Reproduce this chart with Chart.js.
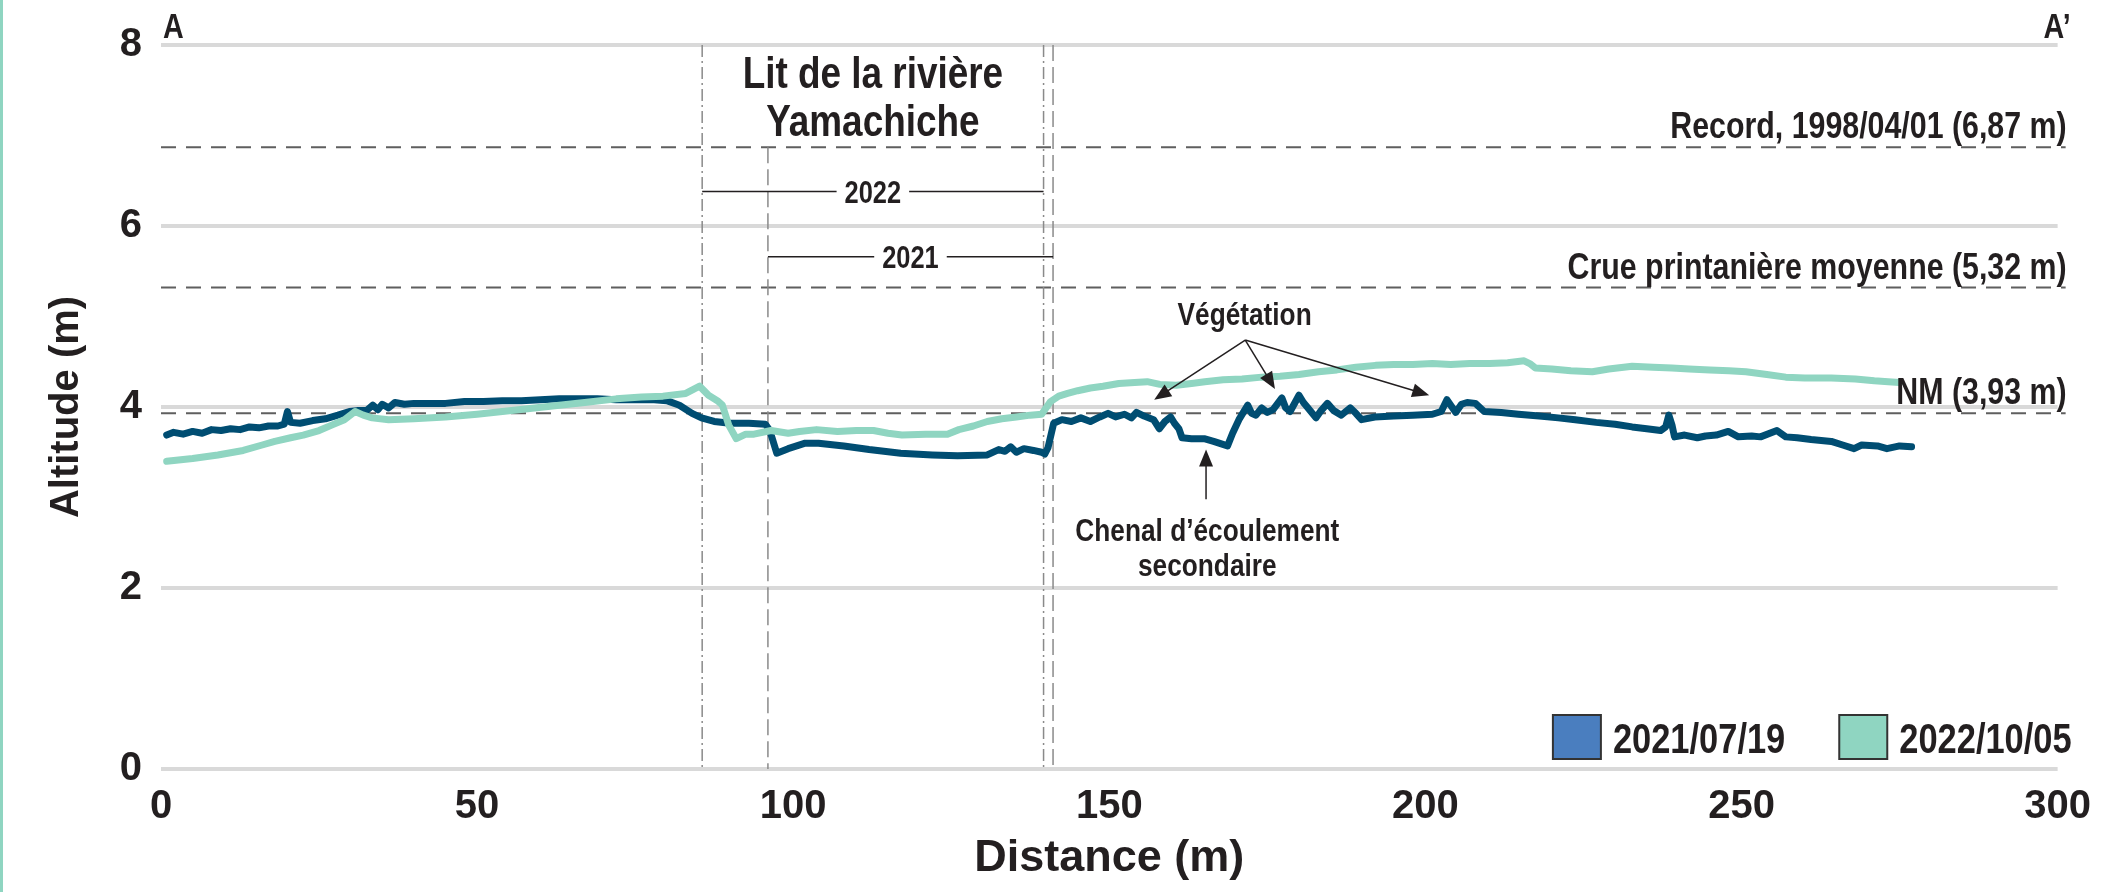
<!DOCTYPE html>
<html>
<head>
<meta charset="utf-8">
<script src="https://cdn.jsdelivr.net/npm/chart.js@4.4.1/dist/chart.umd.min.js"></script>
<style>
  body { margin: 0; background: #fff; }
  #wrap { width: 2105px; height: 892px; }
</style>
</head>
<body>
<div id="wrap"><canvas id="profile_chart" width="2105" height="892"></canvas></div>
<script>
// Profil A-A' : distance (m) / altitude (m)
const dist2021 = [0.9, 2, 3.5, 5, 6.5, 8, 9.5, 11, 12.5, 14, 15.5, 17, 18.5, 19.5, 20, 20.5, 22, 24, 26, 28,
    29.8, 31, 32.5, 33.5, 34.3, 35, 36, 37, 38.5, 40, 42, 45, 48, 51, 54, 57, 60, 63, 66, 69,
    72, 75, 78, 80, 82, 84, 85.5, 87.5, 90, 93, 95.6, 96.3, 97.4, 99.2, 101.9, 104, 108, 112, 117, 122,
    126, 130.7, 132.5, 133.5, 134.4, 135.3, 136.5, 138, 139.3, 139.8, 140.3, 141.2, 142.5, 144, 145.5, 147, 148.5, 149.8, 151, 152.4,
    153.5, 154.3, 155.5, 157, 157.9, 158.8, 159.7, 160.3, 161, 161.5, 163, 165, 166.5, 168.7, 169.5, 170.5, 171.9, 172.5, 173.2, 174.1,
    175, 175.9, 177.3, 177.9, 178.6, 180, 180.7, 181.3, 182.7, 183.5, 184.5, 185.5, 186.7, 188.1, 189, 189.9, 192, 195, 198, 201.1,
    202.5, 203.4, 204, 204.8, 205.7, 206.6, 207.9, 209.3, 212, 214.7, 218, 221, 223.7, 227, 230, 232.7, 235, 237.2, 238, 238.5,
    239, 239.4, 241, 243, 244.3, 246, 247.9, 249.5, 251.6, 253, 255.6, 257, 258.8, 261, 264.2, 266, 267.8, 269, 271.5, 273,
    275, 276.9];
const alt2021 = [3.69, 3.72, 3.70, 3.73, 3.71, 3.75, 3.74, 3.76, 3.75, 3.78, 3.77, 3.79, 3.79, 3.81, 3.95, 3.83, 3.82, 3.85, 3.87, 3.91,
    3.95, 3.96, 3.96, 4.02, 3.97, 4.03, 3.99, 4.05, 4.03, 4.04, 4.04, 4.04, 4.06, 4.06, 4.07, 4.07, 4.08, 4.09, 4.09, 4.09,
    4.08, 4.08, 4.08, 4.07, 4.02, 3.93, 3.88, 3.84, 3.82, 3.82, 3.81, 3.74, 3.49, 3.54, 3.60, 3.60, 3.57, 3.53, 3.49, 3.47,
    3.46, 3.47, 3.53, 3.51, 3.56, 3.50, 3.54, 3.52, 3.50, 3.48, 3.55, 3.82, 3.86, 3.84, 3.88, 3.84, 3.89, 3.93, 3.89, 3.92,
    3.88, 3.94, 3.90, 3.86, 3.76, 3.84, 3.89, 3.82, 3.76, 3.66, 3.65, 3.65, 3.62, 3.57, 3.71, 3.86, 4.02, 3.93, 3.91, 3.99,
    3.94, 3.97, 4.10, 3.99, 3.95, 4.13, 4.05, 4.00, 3.88, 3.96, 4.04, 3.96, 3.91, 3.99, 3.93, 3.86, 3.89, 3.90, 3.91, 3.92,
    3.95, 4.08, 4.02, 3.94, 4.03, 4.05, 4.04, 3.95, 3.94, 3.92, 3.90, 3.88, 3.86, 3.83, 3.81, 3.78, 3.76, 3.74, 3.78, 3.91,
    3.80, 3.67, 3.69, 3.66, 3.68, 3.69, 3.73, 3.67, 3.68, 3.67, 3.74, 3.67, 3.66, 3.64, 3.62, 3.58, 3.54, 3.58, 3.57, 3.54,
    3.57, 3.56];

const dist2022 = [0.9, 5, 9, 13, 16, 18, 20.5, 22.5, 25, 27, 29, 30.7, 32, 33.4, 36, 40, 45, 50, 54, 58,
    63, 67, 72, 76, 79.4, 83, 85.2, 86.6, 88, 88.8, 89.8, 91, 92.5, 93.8, 96.5, 99.2, 101, 103.7, 107, 110,
    112.7, 115, 117.2, 121, 124.4, 126.2, 128.5, 130.7, 133, 135.3, 137.5, 139.3, 140.7, 142, 143.4, 145, 147, 149, 151.5, 154,
    156, 158, 160.6, 163, 165.1, 168, 171, 174.1, 177, 180, 183.1, 186, 189, 192.1, 195, 198, 201.1, 204, 207, 210.2,
    213, 215.6, 216.5, 217.4, 220, 223, 226.4, 229, 232.7, 236, 239, 241.7, 245, 248, 250.7, 254, 257, 260, 264.2, 268,
    271, 273.2, 275];
const alt2022 = [3.40, 3.43, 3.47, 3.52, 3.58, 3.62, 3.66, 3.69, 3.74, 3.80, 3.86, 3.95, 3.91, 3.88, 3.86, 3.87, 3.89, 3.92, 3.95, 3.98,
    4.02, 4.05, 4.09, 4.11, 4.12, 4.15, 4.23, 4.13, 4.07, 4.02, 3.80, 3.65, 3.70, 3.70, 3.74, 3.71, 3.73, 3.75, 3.73, 3.74,
    3.74, 3.71, 3.69, 3.70, 3.70, 3.75, 3.79, 3.84, 3.87, 3.89, 3.91, 3.92, 4.06, 4.12, 4.15, 4.18, 4.21, 4.23, 4.26, 4.27,
    4.28, 4.25, 4.24, 4.26, 4.28, 4.30, 4.31, 4.33, 4.34, 4.36, 4.39, 4.41, 4.44, 4.46, 4.47, 4.47, 4.48, 4.47, 4.48, 4.48,
    4.49, 4.51, 4.48, 4.43, 4.42, 4.40, 4.39, 4.42, 4.45, 4.44, 4.43, 4.42, 4.41, 4.40, 4.39, 4.36, 4.33, 4.32, 4.32, 4.31,
    4.29, 4.28, 4.27];

const seriesLabels = ['2021/07/19', '2022/10/05'];
const lineColors = ['#004d72', '#8fd5c1'];
const legendColors = ['#4a7ebf', '#8fd5c1'];

const refLevels = [6.87, 5.32, 3.93];
const refLabels = ['Record, 1998/04/01 (6,87 m)', 'Crue printanière moyenne (5,32 m)', 'NM (3,93 m)'];

// limites du lit (m)
const bed2022 = [85.6, 139.6];
const bed2021 = [96, 141.1];
const bracketY = [6.38, 5.66];

const FONT = "'Liberation Sans', Arial, sans-serif";
const INK = '#231f20';
const NARROW = 0.82;   // pas de police étroite : on comprime à la main

function font(size) {
    return 'bold ' + size + 'px ' + FONT;
}

function toPoints(xs, ys) {
    let pts = [];
    for (let i = 0; i < xs.length; i++)
        pts.push({x: xs[i], y: ys[i]});
    return pts;
}

function seg(ctx, x1, y1, x2, y2) {
    ctx.beginPath();
    ctx.moveTo(x1, y1);
    ctx.lineTo(x2, y2);
    ctx.stroke();
}

function narrowText(ctx, text, x, y, size, align) {
    ctx.save();
    ctx.font = font(size);
    ctx.textAlign = align || 'center';
    ctx.translate(x, y);
    ctx.scale(NARROW, 1);
    ctx.fillText(text, 0, 0);
    ctx.restore();
}

function narrowWidth(ctx, text, size) {
    ctx.save();
    ctx.font = font(size);
    const w = ctx.measureText(text).width * NARROW;
    ctx.restore();
    return w;
}

function arrow(ctx, x1, y1, x2, y2) {
    const a = Math.atan2(y2 - y1, x2 - x1);
    const c = Math.cos(a), s = Math.sin(a);
    seg(ctx, x1, y1, x2 - 12 * c, y2 - 12 * s);
    ctx.beginPath();
    ctx.moveTo(x2, y2);
    ctx.lineTo(x2 - 17 * c + 7 * s, y2 - 17 * s - 7 * c);
    ctx.lineTo(x2 - 17 * c - 7 * s, y2 - 17 * s + 7 * c);
    ctx.closePath();
    ctx.fill();
}

const profilePlugin = {
    id: 'profile',
    beforeDraw(chart) {
        const ctx = chart.ctx;
        ctx.save();
        ctx.fillStyle = '#ffffff';
        ctx.fillRect(0, 0, chart.width, chart.height);
        ctx.fillStyle = '#8fd5c1';
        ctx.fillRect(0, 0, 3, chart.height);
        ctx.restore();
    },
    beforeDatasetsDraw(chart) {
        const {ctx, chartArea: area, scales: {x, y}} = chart;
        ctx.save();

        // niveaux de référence
        ctx.strokeStyle = '#5f5f5f';
        ctx.lineWidth = 2;
        ctx.setLineDash([15, 10]);
        for (let v of refLevels) {
            const py = y.getPixelForValue(v);
            seg(ctx, area.left, py, area.right + 8, py);
        }

        // limites du lit
        ctx.strokeStyle = '#8a8a8a';
        ctx.lineWidth = 1.5;
        ctx.setLineDash([12, 4, 2, 4]);
        for (let v of bed2022)
            seg(ctx, x.getPixelForValue(v), y.getPixelForValue(8), x.getPixelForValue(v), y.getPixelForValue(0));
        ctx.setLineDash([16, 6]);
        seg(ctx, x.getPixelForValue(bed2021[0]), y.getPixelForValue(6.87), x.getPixelForValue(bed2021[0]), y.getPixelForValue(0));
        seg(ctx, x.getPixelForValue(bed2021[1]), y.getPixelForValue(8), x.getPixelForValue(bed2021[1]), y.getPixelForValue(0));
        ctx.restore();
    },
    afterDatasetsDraw(chart) {
        const {ctx, chartArea: area, scales: {x, y}} = chart;
        const px = v => x.getPixelForValue(v);
        const py = v => y.getPixelForValue(v);
        ctx.save();
        ctx.fillStyle = INK;
        ctx.strokeStyle = INK;
        ctx.textBaseline = 'alphabetic';

        // libellés des niveaux
        for (let i = 0; i < refLevels.length; i++)
            narrowText(ctx, refLabels[i], area.right + 9, py(refLevels[i]) - 9, 37, 'right');

        // titre du lit
        const mid = (bed2022[0] + bed2022[1]) / 2;
        narrowText(ctx, 'Lit de la rivière', px(mid), py(7.52), 45);
        narrowText(ctx, 'Yamachiche', px(mid), py(7.0), 45);

        // crochets 2022 / 2021
        ctx.lineWidth = 1.5;
        const brackets = [[bed2022, bracketY[0], '2022'], [bed2021, bracketY[1], '2021']];
        for (let [b, v, txt] of brackets) {
            const x1 = px(b[0]), x2 = px(b[1]), cx = (x1 + x2) / 2, yy = py(v);
            const hw = narrowWidth(ctx, txt, 31) / 2 + 8;
            seg(ctx, x1, yy, cx - hw, yy);
            seg(ctx, cx + hw, yy, x2, yy);
            narrowText(ctx, txt, cx, yy + 11, 31);
        }

        // annotations
        narrowText(ctx, 'Végétation', px(171.4), py(4.91), 32);
        narrowText(ctx, 'Chenal d\u2019écoulement', px(165.5), py(2.52), 32);
        narrowText(ctx, 'secondaire', px(165.5), py(2.13), 32);
        ctx.lineWidth = 1.5;
        const vegTargets = [[157.1, 4.08], [176.2, 4.20], [200.6, 4.13]];
        for (let t of vegTargets)
            arrow(ctx, px(171.5), py(4.74), px(t[0]), py(t[1]));
        arrow(ctx, px(165.3), py(2.98), px(165.3), py(3.53));

        // A et A'
        narrowText(ctx, 'A', area.left + 2, area.top - 7, 35, 'left');
        narrowText(ctx, 'A\u2019', area.right + 13, area.top - 7, 35, 'right');

        // légende
        let xr = area.right + 14;
        const ly = area.bottom - 32;
        for (let i = seriesLabels.length - 1; i >= 0; i--) {
            const tw = narrowWidth(ctx, seriesLabels[i], 42);
            const tx = xr - tw;
            ctx.fillStyle = INK;
            narrowText(ctx, seriesLabels[i], tx, ly + 16, 42, 'left');
            const bx = tx - 12 - 48;
            ctx.fillStyle = legendColors[i];
            ctx.fillRect(bx, ly - 22, 48, 44);
            ctx.lineWidth = 2;
            ctx.strokeStyle = '#333333';
            ctx.strokeRect(bx, ly - 22, 48, 44);
            xr = bx - 54;
        }
        ctx.restore();
    }
};

Chart.defaults.font.family = FONT;
Chart.defaults.font.weight = 'bold';
Chart.defaults.color = INK;

const config = {
    type: 'line',
    data: {
        datasets: [{
            label: seriesLabels[0],
            data: toPoints(dist2021, alt2021),
            borderColor: lineColors[0],
            borderWidth: 7,
            pointRadius: 0,
            borderJoinStyle: 'round',
            borderCapStyle: 'round',
            order: 2
        }, {
            label: seriesLabels[1],
            data: toPoints(dist2022, alt2022),
            borderColor: lineColors[1],
            borderWidth: 7,
            pointRadius: 0,
            borderJoinStyle: 'round',
            borderCapStyle: 'round',
            order: 1
        }]
    },
    options: {
        responsive: false,
        animation: false,
        devicePixelRatio: 1,
        layout: {
            padding: {top: 45, right: 33, left: 0, bottom: 0}
        },
        plugins: {
            legend: {display: false},
            tooltip: {enabled: false}
        },
        scales: {
            x: {
                type: 'linear',
                min: 0,
                max: 300,
                ticks: {stepSize: 50, padding: 14, font: {size: 40, weight: 'bold'}, color: INK},
                grid: {display: false, drawTicks: false},
                border: {display: false},
                title: {
                    display: true,
                    text: 'Distance (m)',
                    color: INK,
                    font: {size: 45, weight: 'bold'},
                    padding: {top: 0, bottom: 6}
                },
                afterFit(scale) { scale.height = 123; }
            },
            y: {
                min: 0,
                max: 8,
                ticks: {stepSize: 2, padding: 19, font: {size: 40, weight: 'bold'}, color: INK},
                grid: {color: '#d9d9d9', lineWidth: 4, drawTicks: false},
                border: {display: false},
                title: {
                    display: true,
                    text: 'Altitude (m)',
                    color: INK,
                    font: {size: 40, weight: 'bold'},
                    padding: {top: 43, bottom: 0}
                },
                afterFit(scale) { scale.width = 161; }
            }
        }
    },
    plugins: [profilePlugin]
};

let chart = new Chart(document.getElementById('profile_chart'), config);
</script>
</body>
</html>
